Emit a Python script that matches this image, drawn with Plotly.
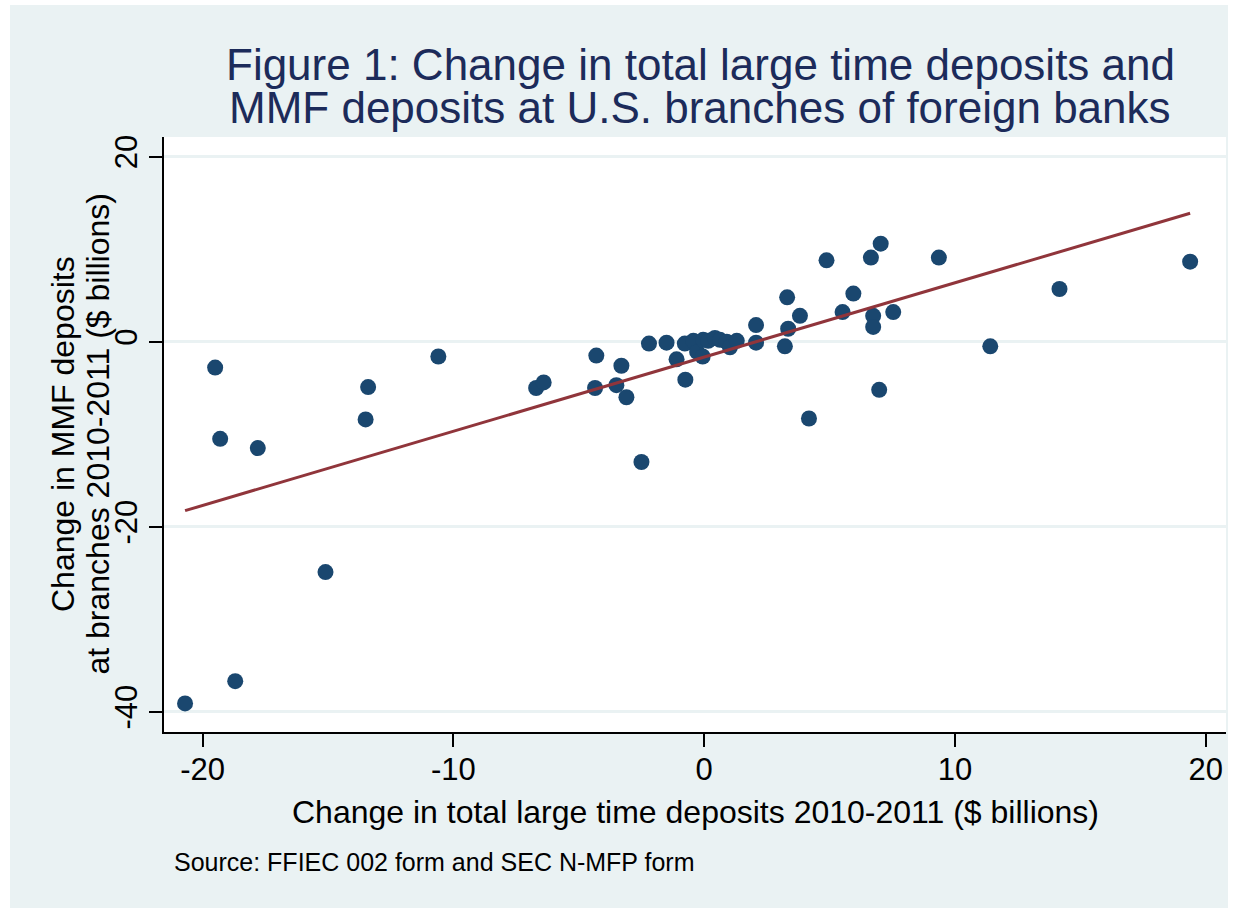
import numpy as np
import plotly.graph_objects as go

# Change in total large time deposits 2010-2011 ($ billions), one value per branch
large_time_dep_change = [
    -20.7, -18.7, -19.5, -19.3, -17.8, -15.1, -13.4, -13.5, -10.6,
    -6.7, -6.4, -4.3, -4.35, -3.3, -3.5, -3.1, -2.5, -2.2, -1.5, -1.1,
    -0.75, -0.77, -0.43, -0.28, -0.06, -0.04, 0.16, 0.43, 0.63, 0.90,
    1.03, 1.30, 2.07, 2.07, 3.22, 3.31, 3.35, 3.82, 4.18, 4.88, 5.52,
    5.95, 6.65, 7.04, 6.74, 6.74, 7.54, 6.98, 9.36, 11.41, 14.17, 19.38,
]
# Change in MMF deposits at branches 2010-2011 ($ billions)
mmf_dep_change = [
    -39.1, -36.7, -2.8, -10.5, -11.5, -24.9, -4.9, -8.4, -1.6,
    -5.0, -4.4, -1.5, -5.0, -2.6, -4.7, -6.0, -13.0, -0.2, -0.1, -1.9,
    -4.1, -0.2, 0.1, -1.1, -1.6, 0.2, 0.1, 0.4, 0.2, 0.0,
    -0.6, 0.1, 1.8, -0.1, -0.5, 4.8, 1.4, 2.8, -8.3, 8.8, 3.2,
    5.2, 9.1, 10.6, 2.8, 1.6, 3.2, -5.2, 9.1, -0.5, 5.7, 8.65,
]

x_tick_vals = [-20, -10, 0, 10, 20]
x_tick_text = ["-20", "-10", "0", "10", "20"]
y_tick_vals = [-40, -20, 0, 20]
y_tick_text = ["-40", "-20", "0", "20"]

title_lines = [
    "Figure 1: Change in total large time deposits and",
    "MMF deposits at U.S. branches of foreign banks",
]
x_title = "Change in total large time deposits 2010-2011 ($ billions)"
y_title_lines = ["Change in MMF deposits", "at branches 2010-2011 ($ billions)"]
source_note = "Source: FFIEC 002 form and SEC N-MFP form"

# Stata s2color palette
BG = "#EAF2F3"
NAVY = "#1A476F"
MAROON = "#90353B"
TITLE_COL = "#1C2B5A"
FONT = "Liberation Sans, Arial, Helvetica, sans-serif"

# Linear fit over the observed range
x_arr = np.array(large_time_dep_change)
y_arr = np.array(mmf_dep_change)
slope, intercept = np.polyfit(x_arr, y_arr, 1)
fit_x = np.array([x_arr.min(), x_arr.max()])
fit_y = intercept + slope * fit_x

W, H = 1240, 909
PL, PR, PT, PB = 164, 1226, 137, 732  # plot area box in pixels


def px_x(px):
    return (px - PL) / (PR - PL)


def px_y(py):
    return (PB - py) / (PB - PT)


fig = go.Figure()
fig.add_trace(go.Scatter(
    x=large_time_dep_change, y=mmf_dep_change, mode="markers",
    marker=dict(color=NAVY, size=16, line=dict(width=0)),
    showlegend=False, hoverinfo="x+y",
))
fig.add_trace(go.Scatter(
    x=fit_x, y=fit_y, mode="lines",
    line=dict(color=MAROON, width=3),
    showlegend=False, hoverinfo="skip",
))

shapes = [
    # graph region background with a thin white border round it
    dict(type="rect", xref="paper", yref="paper", layer="below",
         x0=px_x(10), x1=px_x(1228), y0=px_y(908), y1=px_y(5),
         fillcolor=BG, line=dict(width=0)),
    # white plot region
    dict(type="rect", xref="paper", yref="paper", layer="below",
         x0=0, x1=1, y0=0, y1=1, fillcolor="white", line=dict(width=0)),
]

annotations = []
for txt, cy in zip(title_lines, [64, 108]):
    annotations.append(dict(
        text=txt, xref="paper", yref="paper", x=px_x(700), y=px_y(cy),
        xanchor="center", yanchor="middle", showarrow=False,
        font=dict(family=FONT, size=44, color=TITLE_COL),
    ))
annotations.append(dict(
    text=x_title, xref="paper", yref="paper", x=px_x(695), y=px_y(812),
    xanchor="center", yanchor="middle", showarrow=False,
    font=dict(family=FONT, size=32, color="black"),
))
for txt, cx in zip(y_title_lines, [62.5, 97]):
    annotations.append(dict(
        text=txt, xref="paper", yref="paper", x=px_x(cx), y=px_y(434.5),
        xanchor="center", yanchor="middle", showarrow=False, textangle=-90,
        font=dict(family=FONT, size=32, color="black"),
    ))
annotations.append(dict(
    text=source_note, xref="paper", yref="paper", x=px_x(172), y=px_y(862),
    xanchor="left", yanchor="middle", showarrow=False,
    font=dict(family=FONT, size=25, color="black"),
))

fig.update_layout(
    width=W, height=H,
    margin=dict(l=PL, r=W - PR, t=PT, b=H - PB, pad=0),
    paper_bgcolor="white", plot_bgcolor="white",
    shapes=shapes, annotations=annotations,
    font=dict(family=FONT, color="black"),
)
fig.update_xaxes(
    range=[-21.54, 20.81], tickvals=x_tick_vals, ticktext=x_tick_text,
    showgrid=False, zeroline=False,
    showline=True, linecolor="black", linewidth=1.5,
    ticks="outside", ticklen=13, tickwidth=1.5, tickcolor="black",
    ticklabelstandoff=-4,
    tickfont=dict(family=FONT, size=31, color="black"),
)
fig.update_yaxes(
    range=[-42.19, 22.13], tickvals=y_tick_vals, ticktext=y_tick_text,
    showgrid=True, gridcolor=BG, gridwidth=3, zeroline=False,
    showline=True, linecolor="black", linewidth=1.5,
    ticks="outside", ticklen=13, tickwidth=1.5, tickcolor="black",
    tickangle=-90,
    tickfont=dict(family=FONT, size=31, color="black"),
)

fig.write_html("out.html")
